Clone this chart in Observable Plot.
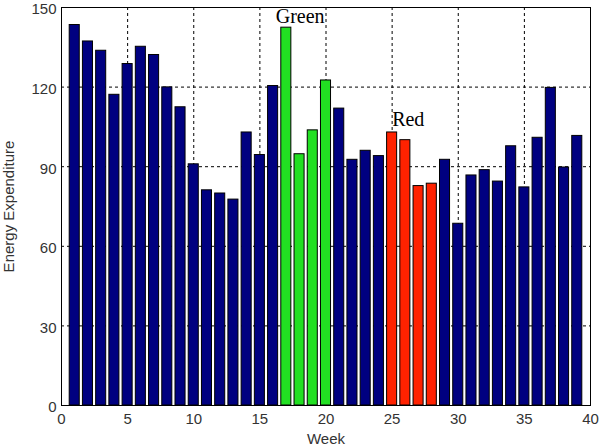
<!DOCTYPE html>
<html><head><meta charset="utf-8">
<script src="https://cdn.jsdelivr.net/npm/d3@7"></script>
<script src="https://cdn.jsdelivr.net/npm/@observablehq/plot@0.6"></script>
<style>body{margin:0;background:#fff}</style>
</head><body><div id="chart"></div>
<script>
const weeks = [1,2,3,4,5,6,7,8,9,10,11,12,13,14,15,16,17,18,19,20,21,22,23,24,25,26,27,28,29,30,31,32,33,34,35,36,37,38,39];
const energy = [143.4,137.2,133.7,117.1,128.7,135.2,132.1,119.9,112.4,90.9,81.1,79.9,77.6,102.9,94.4,120.4,142.4,94.7,103.7,122.5,111.9,92.6,96.0,94.0,102.9,100.0,82.7,83.6,92.6,68.5,86.7,88.7,84.4,97.7,82.2,100.9,119.7,89.7,101.6];
const greenWeeks = [17,18,19,20];
const redWeeks = [25,26,27,28];
const groupNames = ["Base","Green","Red"];
const groupColors = ["#000080","#22e022","#ff2200"];
const xTicks = [0,5,10,15,20,25,30,35,40];
const yTicks = [0,30,60,90,120,150];
const annotLabels = ["Green","Red"];
const annotX = [16.2,25.0];
const annotY = [146.5,107.8];

const rows = weeks.map((w,i)=>({week:w, value:energy[i],
  group: greenWeeks.includes(w) ? "Green" : redWeeks.includes(w) ? "Red" : "Base"}));
const annots = annotLabels.map((t,i)=>({text:t,x:annotX[i],y:annotY[i]}));
const hw = 0.38;

const chart = Plot.plot({
  width: 600, height: 446,
  marginLeft: 61, marginRight: 10, marginTop: 7, marginBottom: 41,
  style: {fontFamily: "'Liberation Sans', Arial, sans-serif", fontSize: "15px", color: "#333", background: "#fff"},
  x: {domain: [0,40], label: null},
  y: {domain: [0,150], label: null},
  color: {domain: groupNames, range: groupColors},
  marks: [
    Plot.gridX({ticks: xTicks, stroke: "#000", strokeOpacity: 1, strokeDasharray: "3,3"}),
    Plot.gridY({ticks: yTicks, stroke: "#000", strokeOpacity: 1, strokeDasharray: "3,3"}),
    Plot.axisX({ticks: xTicks, tickSize: 0, tickPadding: 8, label: null}),
    Plot.axisY({ticks: yTicks, tickSize: 0, tickPadding: 5, label: null, dy: 2}),
    Plot.rectY(rows, {x1: d=>d.week-hw, x2: d=>d.week+hw, y1: 0, y2: "value", fill: "group", stroke: "#000", strokeWidth: 1}),
    Plot.text(annots, {x: "x", y: "y", text: "text", textAnchor: "start", fontFamily: "'Liberation Serif', 'Times New Roman', serif", fontSize: 20, fill: "#000"}),
    Plot.frame({stroke: "#000", strokeWidth: 1}),
    Plot.text(["Week"], {frameAnchor: "bottom", lineAnchor: "middle", dy: 34, text: d=>d, fontSize: 15, fill: "#333"}),
    Plot.text(["Energy Expenditure"], {frameAnchor: "left", textAnchor: "middle", lineAnchor: "middle", dx: -52, rotate: -90, text: d=>d, fontSize: 15, fill: "#333"})
  ]
});
document.getElementById("chart").appendChild(chart);
</script>
</body></html>
